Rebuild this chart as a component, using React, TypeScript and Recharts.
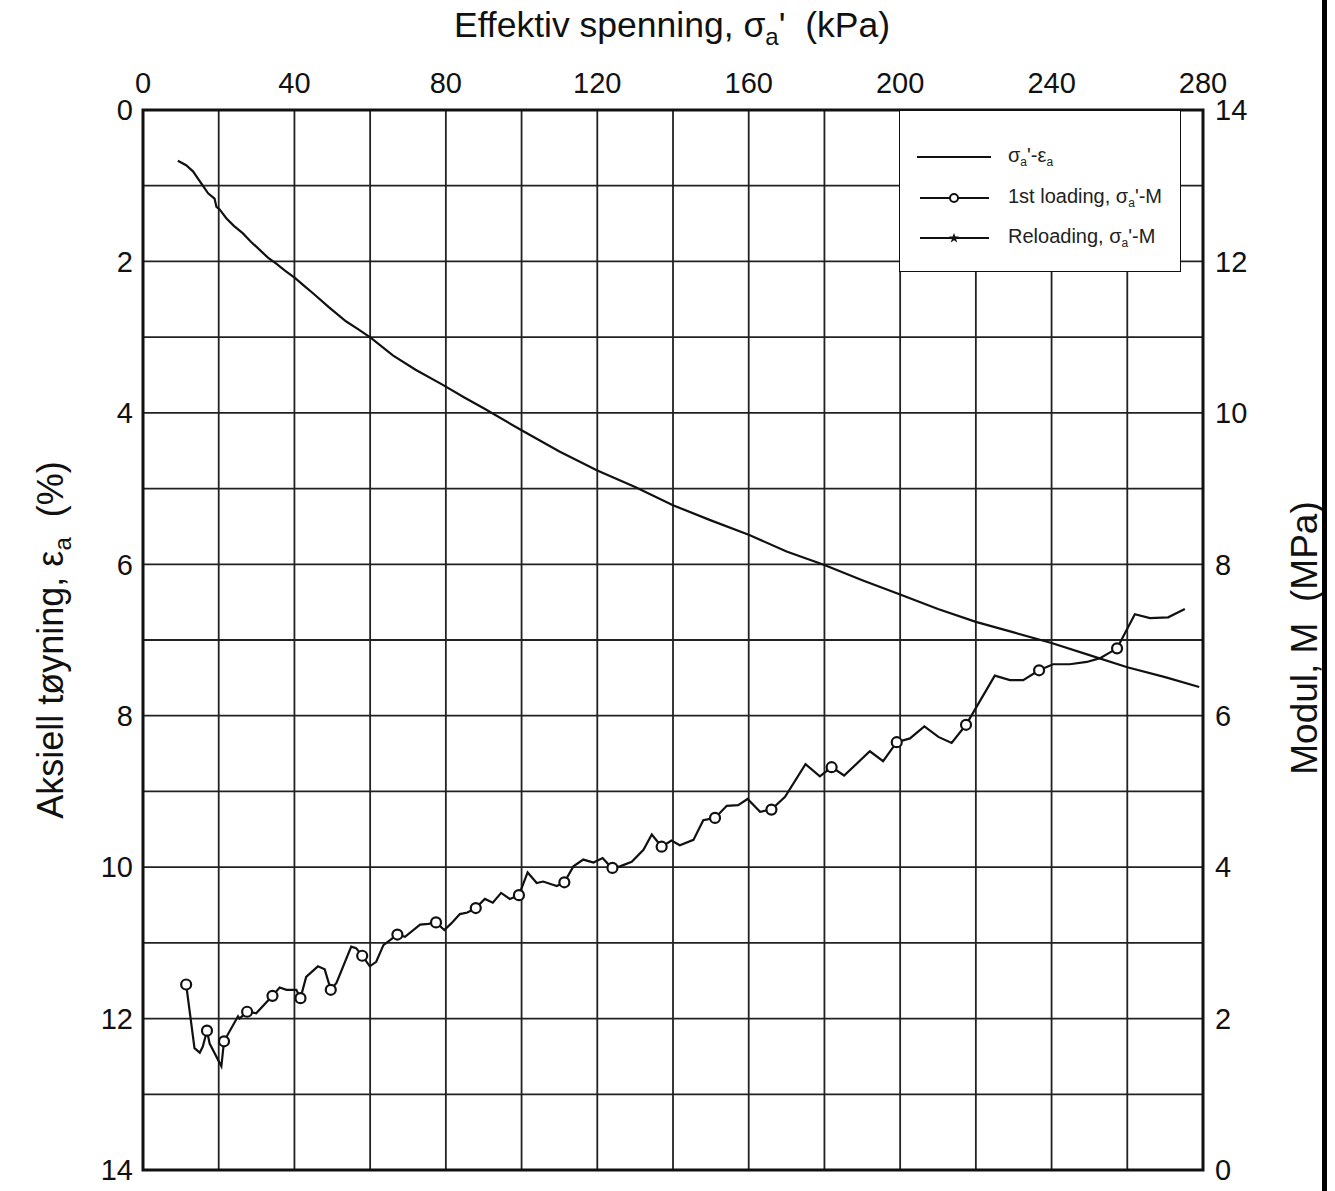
import React from "react";
import { CartesianGrid, ComposedChart, Line, ReferenceArea, XAxis, YAxis } from "recharts";

// sigma_a' - eps_a curve (left axis, reversed)
const stressKpa = [
  9.2, 11.4, 13.2, 15.8, 17.2, 18.9, 19.4, 20.2, 22, 24, 26.4, 28.5, 30.9, 33, 35.2, 37.5, 40.2,
  42.5, 44.9, 49, 53.6, 57, 60.2, 66, 72, 79.2, 85, 90, 100, 110, 120, 130, 140, 150, 160, 170,
  180, 190, 200, 210, 220, 230, 240, 250, 260, 270, 279,
];
const strainPct = [
  0.67, 0.73, 0.81, 1.0, 1.1, 1.17, 1.28, 1.31, 1.43, 1.53, 1.63, 1.74, 1.85, 1.95, 2.03, 2.12,
  2.22, 2.32, 2.42, 2.6, 2.79, 2.9, 3.01, 3.24, 3.43, 3.63, 3.8, 3.94, 4.23, 4.51, 4.76, 4.98,
  5.22, 5.42, 5.61, 5.83, 6.01, 6.21, 6.4, 6.59, 6.76, 6.9, 7.04, 7.2, 7.36, 7.49, 7.62,
];

// 1st loading, sigma_a' - M (right axis)
const modKpa = [
  11.4, 13.6, 15, 15.8, 16.9, 17.6, 20.7, 21.4, 25.1, 25.5, 27.5, 29.9, 34.2, 36.1, 37.9, 40.5,
  41.6, 43.1, 46.2, 48, 49.6, 51.1, 55, 56.3, 57.9, 59.9, 61.6, 63.5, 65.6, 67.2, 69.2, 73.2,
  75.4, 77.4, 79.6, 81.5, 83.7, 85.7, 87.9, 90.3, 92.4, 94.6, 96.9, 99.3, 101.6, 104, 105.7,
  109.3, 111.3, 113.7, 116.3, 119, 121.4, 122.7, 124, 126, 129.1, 132.2, 134.4, 137, 139.6,
  141.8, 145.4, 148, 151.1, 154.2, 157.2, 159.7, 163, 166, 169.6, 175, 178.8, 181.9, 185.2, 192,
  195.5, 199.1, 202.6, 206.4, 210.1, 213.6, 217.4, 225, 229, 232.5, 236.7, 240.4, 244.8, 249.3,
  252.8, 257.3, 262, 266, 270.8, 275.2,
];
const modMpa = [
  2.45, 1.61, 1.55, 1.63, 1.84, 1.67, 1.37, 1.7, 2.03, 2.0, 2.09, 2.07, 2.3, 2.41, 2.38, 2.38,
  2.27, 2.55, 2.69, 2.65, 2.38, 2.47, 2.95, 2.93, 2.83, 2.69, 2.75, 2.97, 3.05, 3.11, 3.08, 3.24,
  3.25, 3.27, 3.17, 3.26, 3.38, 3.4, 3.46, 3.58, 3.53, 3.66, 3.58, 3.63, 3.93, 3.79, 3.81, 3.75,
  3.8, 4.01, 4.1, 4.06, 4.12, 4.05, 3.99, 4.01, 4.07, 4.23, 4.43, 4.27, 4.35, 4.29, 4.36, 4.62,
  4.65, 4.81, 4.82, 4.9, 4.73, 4.76, 4.93, 5.36, 5.2, 5.32, 5.21, 5.53, 5.4, 5.65, 5.7, 5.86,
  5.72, 5.64, 5.88, 6.53, 6.47, 6.47, 6.6, 6.68, 6.68, 6.71, 6.76, 6.89, 7.34, 7.29, 7.3, 7.41,
];
// measured points (drawn with a circle)
const modMarked = [
  11.4, 16.9, 21.4, 27.5, 34.2, 41.6, 49.6, 57.9, 67.2, 77.4, 87.9, 99.3, 111.3, 124, 137, 151.1,
  166, 181.9, 199.1, 217.4, 236.7, 257.3,
];

const xTicks = [0, 20, 40, 60, 80, 100, 120, 140, 160, 180, 200, 220, 240, 260, 280];
const yTicks = [0, 1, 2, 3, 4, 5, 6, 7, 8, 9, 10, 11, 12, 13, 14];

const FONT = "'Liberation Sans', Arial, sans-serif";

const strainData = stressKpa.map((kpa, i) => ({ kpa, strain: strainPct[i] }));
const modData = modKpa.map((kpa, i) => ({
  kpa,
  mod: modMpa[i],
  mark: modMarked.includes(kpa),
}));

function CircleDot(props: any) {
  const { cx, cy, payload, index } = props;
  if (!payload?.mark) return <g key={`d${index}`} />;
  return (
    <circle key={`d${index}`} cx={cx} cy={cy} r={5} fill="#fff" stroke="#111" strokeWidth={2.2} />
  );
}

const tickStyle = { fill: "#111", fontSize: 29, fontFamily: FONT };

function Legend() {
  const row: React.CSSProperties = {
    position: "absolute",
    left: 0,
    display: "flex",
    alignItems: "center",
    fontSize: 20,
    color: "#222",
    whiteSpace: "nowrap",
  };
  const sub = { fontSize: 12, verticalAlign: -4 };
  return (
    <div
      style={{
        position: "absolute",
        left: 899,
        top: 110,
        width: 282,
        height: 162,
        background: "#fff",
        border: "1.5px solid #111",
        boxSizing: "border-box",
        fontFamily: FONT,
      }}
    >
      <div style={{ ...row, top: 33 }}>
        <svg width={108} height={20}>
          <line x1={17} x2={91} y1={10} y2={10} stroke="#111" strokeWidth={2} />
        </svg>
        <span>
          σ<span style={sub}>a</span>'-ε<span style={sub}>a</span>
        </span>
      </div>
      <div style={{ ...row, top: 74 }}>
        <svg width={108} height={20}>
          <line x1={20} x2={89} y1={10} y2={10} stroke="#111" strokeWidth={2} />
          <circle cx={54} cy={10} r={4} fill="#fff" stroke="#111" strokeWidth={2} />
        </svg>
        <span>
          1st loading, σ<span style={sub}>a</span>'-M
        </span>
      </div>
      <div style={{ ...row, top: 114 }}>
        <svg width={108} height={20}>
          <line x1={20} x2={89} y1={10} y2={10} stroke="#111" strokeWidth={2} />
          <polygon
            points="54,5 55.4,8.6 59,8.6 56.1,10.9 57.2,14.5 54,12.3 50.8,14.5 51.9,10.9 49,8.6 52.6,8.6"
            fill="#111"
          />
        </svg>
        <span>
          Reloading, σ<span style={sub}>a</span>'-M
        </span>
      </div>
    </div>
  );
}

function Titles() {
  return (
    <svg
      width={1335}
      height={1191}
      style={{ position: "absolute", left: 0, top: 0, pointerEvents: "none" }}
      fontFamily={FONT}
      fill="#111"
    >
      <text x={672} y={37} textAnchor="middle" fontSize={35.5}>
        Effektiv spenning, σ
        <tspan fontSize={24} dy={8}>a</tspan>
        <tspan dy={-8}>{"'\u00a0\u00a0(kPa)"}</tspan>
      </text>
      <text x={63} y={640} textAnchor="middle" fontSize={36} transform="rotate(-90 63 640)">
        Aksiell tøyning, ε
        <tspan fontSize={24} dy={8}>a</tspan>
        <tspan dy={-8}>{"\u00a0\u00a0(%)"}</tspan>
      </text>
      <text x={1317} y={638} textAnchor="middle" fontSize={37} transform="rotate(-90 1317 638)">
        {"Modul, M\u00a0\u00a0(MPa)"}
      </text>
    </svg>
  );
}

export default function App() {
  return (
    <div
      style={{
        position: "absolute",
        left: 0,
        top: 0,
        width: 1335,
        height: 1191,
        background: "#fff",
        overflow: "hidden",
      }}
    >
      <ComposedChart
        width={1335}
        height={1191}
        margin={{ top: 50, right: 72, bottom: 21, left: 83 }}
        style={{ fontFamily: FONT }}
      >
        <CartesianGrid xAxisId="x" yAxisId="left" stroke="#222" strokeWidth={1.8} />
        <XAxis
          xAxisId="x"
          dataKey="kpa"
          type="number"
          orientation="top"
          domain={[0, 280]}
          ticks={xTicks}
          tickFormatter={(v) => (v % 40 === 0 ? String(v) : "")}
          tick={tickStyle}
          tickLine={false}
          axisLine={false}
          tickSize={10}
          tickMargin={7}
          height={60}
          allowDataOverflow
        />
        <YAxis
          yAxisId="left"
          orientation="left"
          type="number"
          domain={[0, 14]}
          reversed
          ticks={yTicks}
          tickFormatter={(v) => (v % 2 === 0 ? String(v) : "")}
          tick={tickStyle}
          tickLine={false}
          axisLine={false}
          tickSize={8}
          tickMargin={2}
          width={60}
        />
        <YAxis
          yAxisId="right"
          orientation="right"
          type="number"
          domain={[0, 14]}
          ticks={yTicks}
          tickFormatter={(v) => (v % 2 === 0 ? String(v) : "")}
          tick={tickStyle}
          tickLine={false}
          axisLine={false}
          tickSize={8}
          tickMargin={4}
          width={60}
        />
        <ReferenceArea
          xAxisId="x"
          yAxisId="left"
          x1={0}
          x2={280}
          y1={0}
          y2={14}
          fill="none"
          fillOpacity={0}
          stroke="#111"
          strokeWidth={3}
          ifOverflow="visible"
        />
        <Line
          xAxisId="x"
          yAxisId="left"
          data={strainData}
          dataKey="strain"
          type="linear"
          stroke="#111"
          strokeWidth={2.2}
          dot={false}
          isAnimationActive={false}
        />
        <Line
          xAxisId="x"
          yAxisId="right"
          data={modData}
          dataKey="mod"
          type="linear"
          stroke="#111"
          strokeWidth={2.2}
          dot={CircleDot}
          activeDot={false}
          isAnimationActive={false}
        />
      </ComposedChart>
      <Legend />
      <Titles />
      <div
        style={{
          position: "absolute",
          left: 1322,
          top: 0,
          width: 5,
          height: 1191,
          background: "#000",
        }}
      />
    </div>
  );
}
